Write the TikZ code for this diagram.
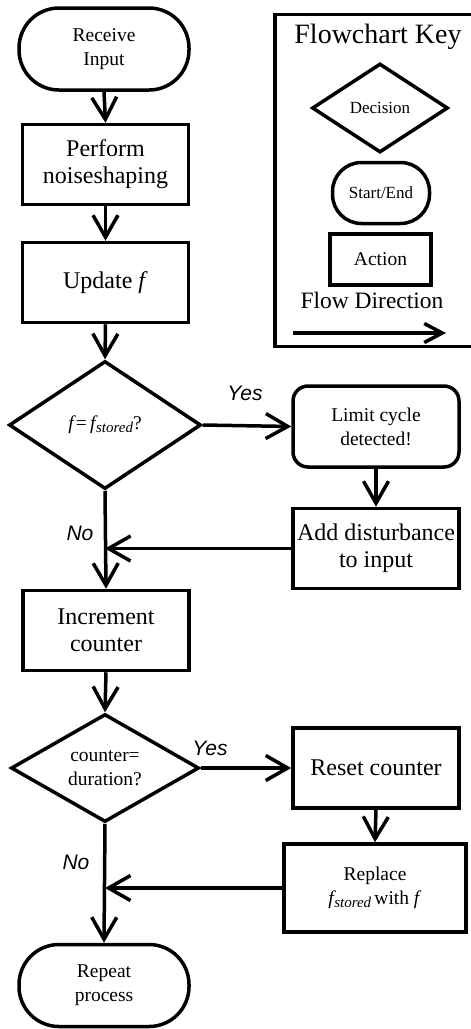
\documentclass[tikz,border=0pt]{standalone}
\usepackage{fontspec}
\setmainfont{Liberation Serif}
\newfontfamily\lsans{Liberation Sans}
\usetikzlibrary{shapes.geometric,arrows.meta}
\newcommand{\fbig}{\fontsize{24}{27}\selectfont}
\newcommand{\fsmall}{\fontsize{19.5}{24}\selectfont}
\newcommand{\fkey}{\fontsize{17}{20}\selectfont}
\newcommand{\fst}{\textit{f\kern0.5pt\raisebox{-3pt}{\fontsize{15}{15}\selectfont stored}}}
\begin{document}
\begin{tikzpicture}[x=1pt,y=-1pt,
  base/.style={draw=black,line width=3.5pt,inner sep=0pt,align=center,text=black},
  actbox/.style={base,rectangle,minimum width=166pt,minimum height=80pt,font=\fbig},
  term/.style={base,rectangle,rounded corners=40pt,minimum width=170pt,minimum height=82pt,font=\fsmall},
  roundbox/.style={base,rectangle,rounded corners=15pt,minimum width=166pt,minimum height=81pt,font=\fsmall},
  decide/.style={base,diamond,aspect=1.5,font=\fsmall},
  flow/.style={line width=3.5pt,-{Straight Barb[length=22pt,width=25pt]}},
  lab/.style={font=\lsans\itshape\fontsize{21}{21}\selectfont,inner sep=0pt}
]
\useasboundingbox (0,0) rectangle (471,1029);
\fill[white] (0,0) rectangle (471,1029);

% main flow
\node[term] (recv) at (104,49) {Receive\\Input};
\node[actbox] (perf) at (105.5,164.5) {Perform\\noiseshaping};
\node[actbox] (upd) at (105.5,282.5) {Update \textit{f}};
\node[decide,minimum width=192pt,minimum height=128pt] (dec1) at (105,425) {\raisebox{-4pt}{\textit{f}=\,\fst?}};
\node[roundbox] (limit) at (376,426.5) {Limit cycle\\detected!};
\node[actbox] (add) at (376,548.5) {Add disturbance\\to input};
\node[actbox] (inc) at (106,630.5) {Increment\\counter};
\node[decide,minimum width=188pt,minimum height=108pt] (dec2) at (105,768) {counter=\\duration?};
\node[actbox] (reset) at (376,768) {Reset counter};
\node[actbox,minimum width=182pt,minimum height=88pt,font=\fsmall] (repl) at (375,888) {Replace\\\fst\,with \textit{f}};
\node[term] (rep) at (104,985.5) {Repeat\\process};

\coordinate (m1) at (dec1.south |- add.west);
\coordinate (m2) at (dec2.south |- repl.west);

\draw[flow] (recv.south) -- (perf.north);
\draw[flow] (perf.south) -- (upd.north);
\draw[flow] (upd.south) -- (dec1.north);
\draw[flow] (dec1.east) -- (limit.west);
\draw[flow] (limit.south) -- (add.north);
\draw[flow] (add.west) -- (m1);
\draw[flow] (dec1.south) -- (inc.north);
\draw[flow] (inc.south) -- (dec2.north);
\draw[flow] (dec2.east) -- (reset.west);
\draw[flow] (reset.south) -- (repl.north);
\draw[flow] (repl.west) -- (m2);
\draw[flow] (dec2.south) -- (rep.north);

\node[lab] (yes1) at (245,393) {Yes};
\node[lab] (no1) at (80,533) {No};
\node[lab] (yes2) at (210,748) {Yes};
\node[lab] (no2) at (76,862) {No};

% key
\node[base,rectangle,minimum width=199pt,minimum height=332pt] (keybox) at (374.5,180.5) {};
\node[inner sep=0pt,font=\fontsize{28}{30}\selectfont] (keytitle) at (378,37) {Flowchart Key};
\node[base,diamond,minimum width=136pt,minimum height=89pt,font=\fkey] (kdec) at (380,108) {Decision};
\node[base,rectangle,rounded corners=29pt,minimum width=97pt,minimum height=61pt,font=\fkey] (kterm) at (381,193) {Start/End};
\node[base,rectangle,minimum width=101pt,minimum height=51pt,font=\fsmall] (kact) at (380.5,259.5) {Action};
\node[inner sep=0pt,font=\fontsize{23.5}{25}\selectfont] (kflow) at (372,300) {Flow Direction};
\coordinate (ka) at (293,333);
\coordinate (kb) at (446,333);
\draw[line width=3.5pt,-{Straight Barb[length=18pt,width=19pt]}] (ka) -- (kb);
\end{tikzpicture}
\end{document}
